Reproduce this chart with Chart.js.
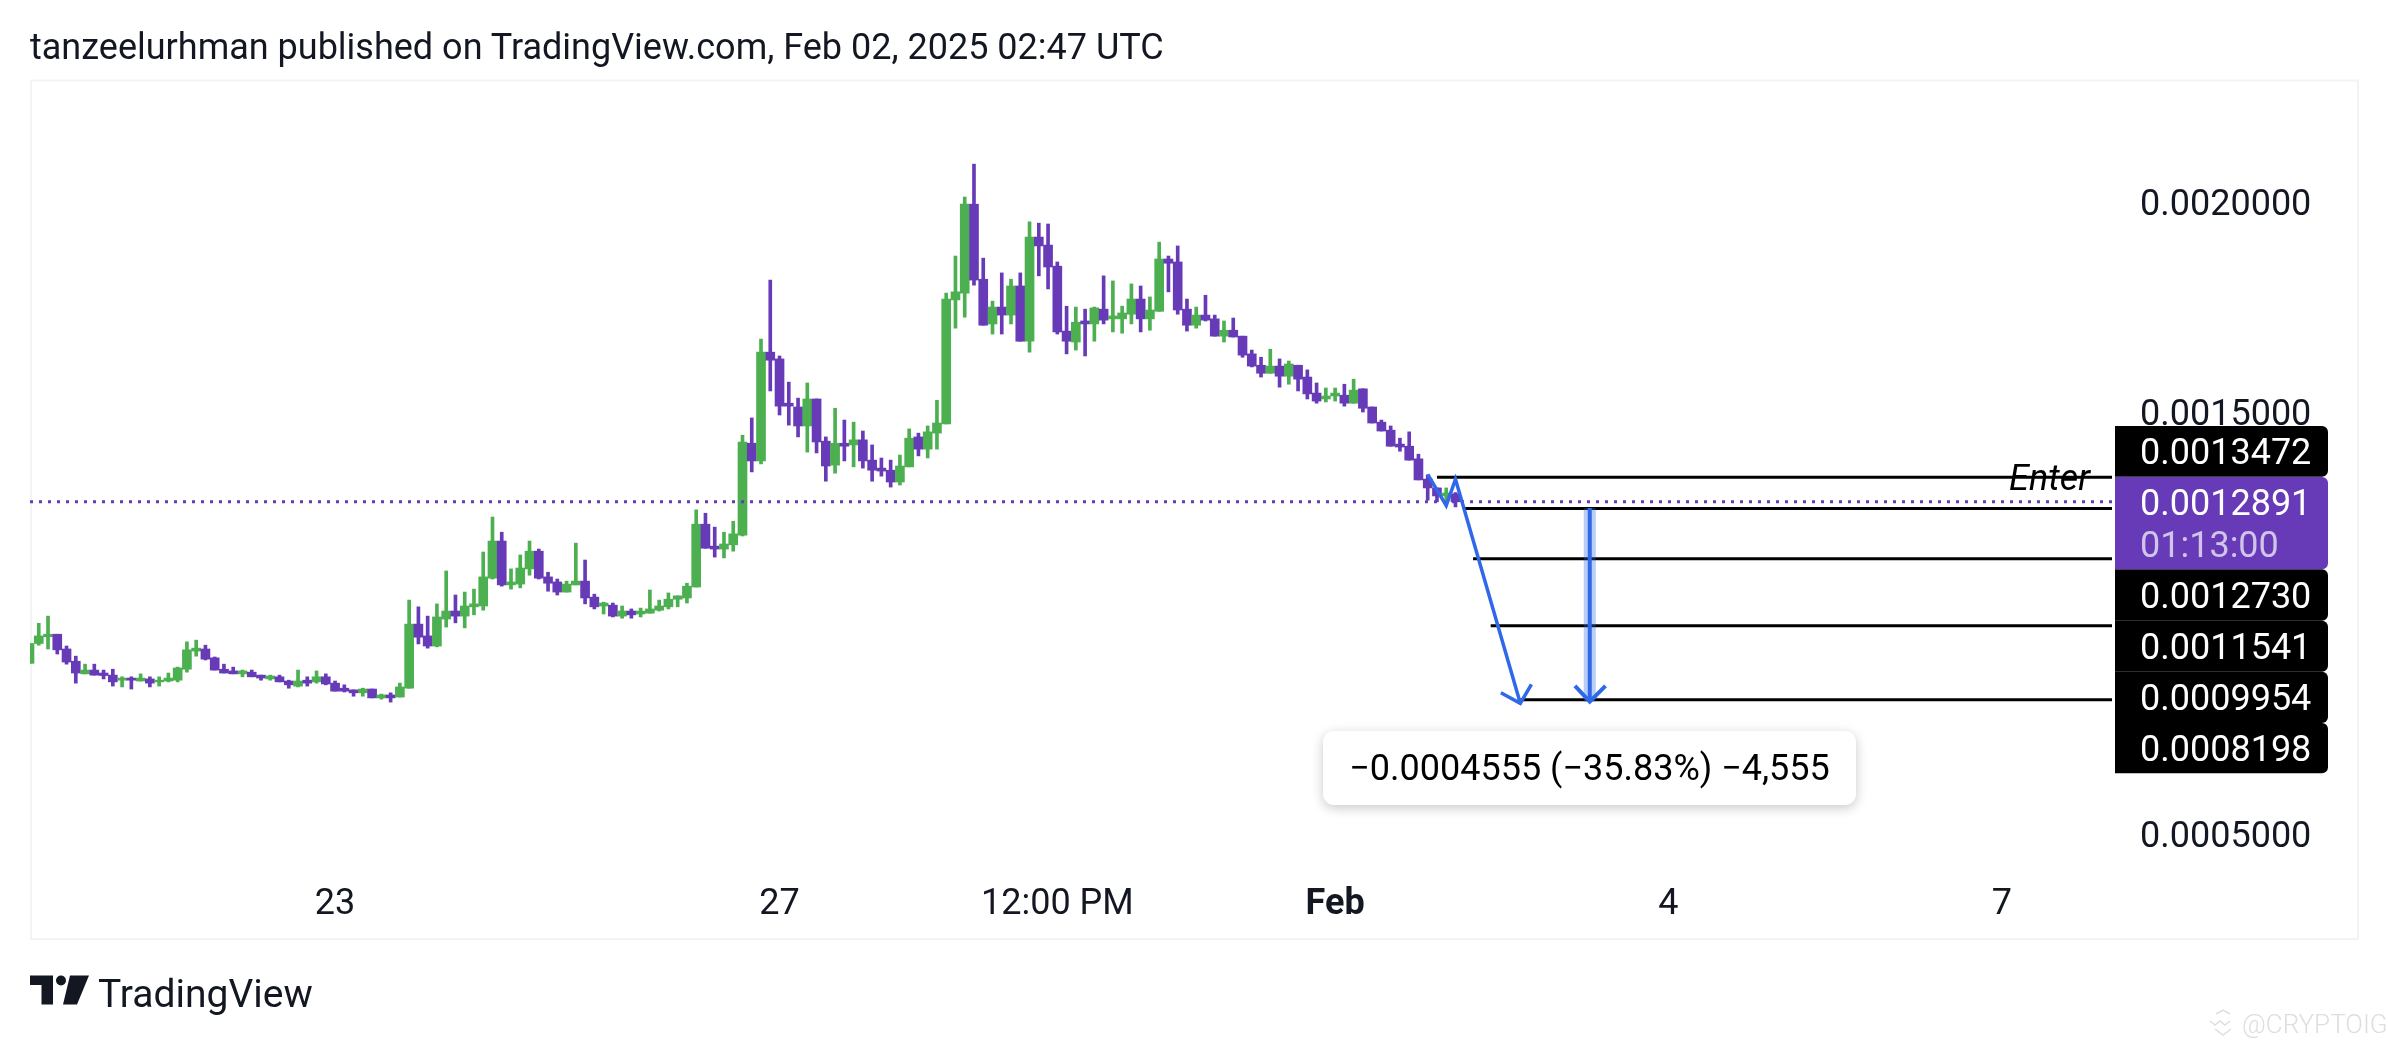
<!DOCTYPE html>
<html>
<head>
<meta charset="utf-8">
<title>TradingView chart</title>
<script src="https://cdn.jsdelivr.net/npm/chart.js@4/dist/chart.umd.min.js"></script>
<style>
  html, body { margin: 0; padding: 0; background: #fff; width: 2388px; height: 1044px; overflow: hidden; }
  canvas { position: absolute; left: 0; top: 0; }
  .txt { position: absolute; font-family: Roboto, sans-serif; color: #131722; white-space: nowrap; line-height: 1; }
  #head { left: 30px; top: 29px; font-size: 36px; }
  #brand { left: 98px; top: 975px; font-size: 39px; }
  #mark { left: 2242px; top: 1011px; font-size: 26px; color: #dedede; font-weight: 300; }
  svg { position: absolute; left: 0; top: 0; }
</style>
</head>
<body>
<canvas id="chart" width="2388" height="1044"></canvas>
<div class="txt" id="head">tanzeelurhman published on TradingView.com, Feb 02, 2025 02:47 UTC</div>
<svg width="2388" height="1044">
  <path d="M30 975.5H53V1004.5H41.5V985H30Z M70 975.5H89L77 1004.5H63Z" fill="#131722"/>
  <circle cx="61" cy="980.5" r="5" fill="#131722"/>
  <path d="M2210 1021l5 4 5-4 5 4 5-4 M2216 1014l7-4 7 4 M2215 1029l8 6 8-6" fill="none" stroke="#dedede" stroke-width="1.5"/>
</svg>
<div class="txt" id="brand">TradingView</div>
<div class="txt" id="mark">@CRYPTOIG</div>
<script>
// 2h candles, index 0 = first bar on the left edge
const opens = [0.000906,0.000953,0.000969,0.000975,0.000940,0.000911,0.000881,0.000890,0.000883,0.000878,
  0.000866,0.000871,0.000864,0.000869,0.000862,0.000864,0.000866,0.000892,0.000935,0.000940,
  0.000919,0.000892,0.000888,0.000881,0.000885,0.000878,0.000869,0.000874,0.000864,0.000852,
  0.000866,0.000862,0.000874,0.000859,0.000847,0.000843,0.000836,0.000845,0.000824,0.000831,
  0.000826,0.000847,0.000999,0.000971,0.000947,0.001011,0.001030,0.001018,0.001040,0.001042,
  0.001108,0.001196,0.001092,0.001094,0.001130,0.001172,0.001111,0.001099,0.001075,0.001092,
  0.001101,0.001063,0.001042,0.001044,0.001018,0.001030,0.001023,0.001025,0.001032,0.001040,
  0.001058,0.001061,0.001087,0.001236,0.001184,0.001177,0.001187,0.001210,0.001428,0.001386,
  0.001644,0.001628,0.001523,0.001514,0.001469,0.001533,0.001433,0.001376,0.001428,0.001424,
  0.001436,0.001388,0.001369,0.001364,0.001336,0.001372,0.001443,0.001414,0.001452,0.001474,
  0.001768,0.001784,0.001995,0.001817,0.001711,0.001751,0.001732,0.001801,0.001670,0.001917,
  0.001898,0.001848,0.001694,0.001668,0.001718,0.001711,0.001746,0.001723,0.001723,0.001734,
  0.001770,0.001723,0.001741,0.001865,0.001858,0.001746,0.001708,0.001732,0.001723,0.001682,
  0.001696,0.001682,0.001640,0.001613,0.001594,0.001611,0.001587,0.001613,0.001585,0.001547,
  0.001533,0.001540,0.001542,0.001523,0.001557,0.001514,0.001478,0.001459,0.001426,0.001421,
  0.001391,0.001343,0.001322,0.001303,0.001308];
const highs = [0.000953,0.001001,0.001018,0.000975,0.000947,0.000923,0.000904,0.000904,0.000890,0.000892,
  0.000874,0.000874,0.000881,0.000874,0.000874,0.000883,0.000897,0.000957,0.000961,0.000949,
  0.000921,0.000904,0.000897,0.000890,0.000890,0.000878,0.000878,0.000878,0.000866,0.000890,
  0.000874,0.000888,0.000881,0.000864,0.000855,0.000843,0.000847,0.000845,0.000833,0.000836,
  0.000859,0.001056,0.001040,0.001018,0.001047,0.001125,0.001068,0.001075,0.001082,0.001170,
  0.001253,0.001217,0.001130,0.001163,0.001196,0.001177,0.001122,0.001106,0.001101,0.001191,
  0.001151,0.001070,0.001051,0.001049,0.001042,0.001035,0.001037,0.001080,0.001056,0.001073,
  0.001066,0.001096,0.001270,0.001262,0.001229,0.001217,0.001243,0.001447,0.001488,0.001675,
  0.001815,0.001635,0.001573,0.001535,0.001571,0.001533,0.001443,0.001511,0.001483,0.001478,
  0.001457,0.001424,0.001393,0.001388,0.001400,0.001462,0.001452,0.001469,0.001530,0.001784,
  0.001872,0.002012,0.002090,0.001867,0.001765,0.001832,0.001817,0.001832,0.001953,0.001950,
  0.001948,0.001858,0.001753,0.001751,0.001746,0.001751,0.001825,0.001813,0.001753,0.001806,
  0.001801,0.001775,0.001905,0.001872,0.001896,0.001770,0.001751,0.001779,0.001732,0.001718,
  0.001725,0.001682,0.001649,0.001632,0.001651,0.001628,0.001623,0.001613,0.001602,0.001571,
  0.001559,0.001559,0.001568,0.001580,0.001557,0.001514,0.001483,0.001469,0.001440,0.001455,
  0.001402,0.001353,0.001322,0.001322,0.001311];
const lows = [0.000906,0.000949,0.000940,0.000928,0.000904,0.000859,0.000881,0.000878,0.000869,0.000852,
  0.000850,0.000845,0.000864,0.000850,0.000852,0.000862,0.000862,0.000885,0.000923,0.000914,
  0.000890,0.000883,0.000881,0.000874,0.000874,0.000866,0.000866,0.000862,0.000847,0.000850,
  0.000852,0.000859,0.000855,0.000840,0.000838,0.000828,0.000828,0.000824,0.000821,0.000814,
  0.000826,0.000847,0.000952,0.000942,0.000945,0.000992,0.001002,0.000990,0.001021,0.001032,
  0.001106,0.001089,0.001082,0.001085,0.001115,0.001106,0.001077,0.001068,0.001075,0.001092,
  0.001047,0.001035,0.001023,0.001016,0.001013,0.001013,0.001016,0.001025,0.001030,0.001035,
  0.001040,0.001049,0.001087,0.001179,0.001158,0.001156,0.001172,0.001208,0.001360,0.001379,
  0.001552,0.001495,0.001471,0.001443,0.001407,0.001405,0.001338,0.001357,0.001386,0.001372,
  0.001369,0.001338,0.001350,0.001324,0.001329,0.001372,0.001398,0.001393,0.001414,0.001474,
  0.001701,0.001727,0.001803,0.001708,0.001687,0.001687,0.001711,0.001670,0.001644,0.001825,
  0.001794,0.001687,0.001640,0.001649,0.001635,0.001670,0.001711,0.001692,0.001689,0.001711,
  0.001692,0.001696,0.001741,0.001787,0.001734,0.001694,0.001701,0.001718,0.001682,0.001668,
  0.001680,0.001632,0.001609,0.001585,0.001594,0.001561,0.001568,0.001552,0.001533,0.001523,
  0.001526,0.001528,0.001516,0.001523,0.001502,0.001476,0.001457,0.001421,0.001409,0.001388,
  0.001341,0.001293,0.001289,0.001293,0.001277];
const closes = [0.000953,0.000971,0.000975,0.000938,0.000909,0.000883,0.000890,0.000878,0.000877,0.000862,
  0.000871,0.000866,0.000871,0.000859,0.000866,0.000871,0.000895,0.000938,0.000942,0.000916,
  0.000890,0.000883,0.000881,0.000888,0.000874,0.000871,0.000876,0.000862,0.000855,0.000864,
  0.000859,0.000874,0.000857,0.000840,0.000840,0.000836,0.000845,0.000824,0.000831,0.000824,
  0.000850,0.000999,0.000968,0.000947,0.001016,0.001030,0.001018,0.001042,0.001047,0.001111,
  0.001196,0.001092,0.001099,0.001132,0.001172,0.001108,0.001096,0.001075,0.001094,0.001101,
  0.001061,0.001040,0.001049,0.001018,0.001030,0.001021,0.001030,0.001035,0.001042,0.001058,
  0.001066,0.001089,0.001236,0.001179,0.001177,0.001189,0.001213,0.001431,0.001386,0.001644,
  0.001625,0.001516,0.001516,0.001469,0.001533,0.001431,0.001374,0.001428,0.001421,0.001436,
  0.001386,0.001364,0.001362,0.001336,0.001374,0.001440,0.001414,0.001455,0.001476,0.001770,
  0.001787,0.001995,0.001815,0.001708,0.001751,0.001732,0.001801,0.001670,0.001917,0.001896,
  0.001846,0.001692,0.001670,0.001715,0.001711,0.001749,0.001720,0.001730,0.001737,0.001770,
  0.001723,0.001744,0.001865,0.001855,0.001744,0.001708,0.001732,0.001720,0.001682,0.001696,
  0.001680,0.001637,0.001611,0.001594,0.001611,0.001587,0.001616,0.001580,0.001545,0.001528,
  0.001540,0.001547,0.001523,0.001554,0.001511,0.001476,0.001457,0.001421,0.001419,0.001388,
  0.001341,0.001322,0.001303,0.001310,0.0012891];

const timeTicks = [33, 81, 111, 141, 177, 213];
const timeLabels = ['23', '27', '12:00 PM', 'Feb', '4', '7'];
const priceTicks = [0.0005, 0.0015, 0.002];

const lastPrice = 0.0012891;
const levelPrices = [0.0013472, 0.0012730, 0.0011541, 0.0009954, 0.0008198];
const levelStarts = [152, 154.8, 155.9, 157.8, 161];

const zigzagX = [151, 153, 154, 161];
const zigzagY = [0.0013544, 0.0012799, 0.0013425, 0.0008112];
const headLeftX = [158.9, 161, 162.2];
const headLeftY = [0.0008363, 0.0008112, 0.0008563];

const measureX = [168.5, 168.5];
const measureY = [0.0012744, 0.000815];
const measureHeadX = [166.9, 168.5, 170.2];
const measureHeadY = [0.0008524, 0.000815, 0.0008524];
const measureText = '\u22120.0004555 (\u221235.83%) \u22124,555';

const X_MIN = 0.054, X_MAX = 224.9;
const Y_MIN = 0.0004395, Y_MAX = 0.0022872;

const GREEN = '#4CAF50', PURPLE = '#673AB7', BLUE = '#2F68E8';
const FONT = '36px Roboto';

const candleColors = closes.map((c, i) => c >= opens[i] ? GREEN : PURPLE);
const toPoints = (xs, ys) => xs.map((x, i) => ({x: x, y: ys[i]}));
const lineSet = (points, color, width, order, extra) => Object.assign({
  type: 'line', data: points, borderColor: color, borderWidth: width, order: order,
  pointRadius: 0, fill: false, tension: 0, borderCapStyle: 'butt'
}, extra || {});

// axis side labels, boxes and the frame: no scale calls needed except for Enter
const overlay = {
  id: 'overlay',
  beforeDraw(chart) {
    const c = chart.ctx;
    c.save();
    c.strokeStyle = '#F2F3F5';
    c.lineWidth = 2;
    c.strokeRect(31, 80.5, 2327, 858.5);
    c.restore();
  },
  afterDraw(chart) {
    const c = chart.ctx;
    const pill = (top, bottom, color) => {
      c.fillStyle = color;
      c.beginPath();
      c.roundRect(2115, top, 213, bottom - top, [0, 6, 6, 0]);
      c.fill();
    };
    const tags = [
      [426, 476.7, levelPrices[0], 464.3],
      [569.3, 620.7, levelPrices[1], 607.7],
      [620.7, 671.7, levelPrices[2], 659],
      [671.7, 723, levelPrices[3], 710],
      [723, 773.3, levelPrices[4], 760.7]
    ];
    c.save();
    c.font = FONT;
    c.textBaseline = 'alphabetic';
    c.textAlign = 'left';
    tags.forEach(t => {
      pill(t[0], t[1], '#000');
      c.fillStyle = '#fff';
      c.fillText(t[2].toFixed(7), 2140, t[3]);
    });
    pill(477, 569.3, PURPLE);
    c.fillStyle = '#fff';
    c.fillText(lastPrice.toFixed(7), 2140, 515);
    c.fillStyle = '#D1C4E9';
    c.fillText('01:13:00', 2140, 556.7);

    // Enter label sits on the first level
    c.fillStyle = '#000';
    c.font = 'italic 36px Roboto';
    c.textAlign = 'right';
    c.fillText('Enter', chart.scales.x.right - 22, chart.scales.y.getPixelForValue(levelPrices[0]) + 13);

    // measure box
    c.shadowColor = 'rgba(0,0,0,0.22)';
    c.shadowBlur = 12;
    c.shadowOffsetY = 3;
    c.fillStyle = '#fff';
    c.beginPath();
    c.roundRect(1323, 731, 533, 74, 11);
    c.fill();
    c.shadowColor = 'transparent';
    c.fillStyle = '#000';
    c.font = FONT;
    c.textAlign = 'center';
    c.textBaseline = 'middle';
    c.fillText(measureText, 1589.5, 771);
    c.restore();
  }
};

new Chart(document.getElementById('chart'), {
  type: 'bar',
  data: {
    datasets: [
      // last price
      lineSet(toPoints([X_MIN, X_MAX], [lastPrice, lastPrice]), PURPLE, 3, 3, {borderDash: [3, 6]}),
      // levels
      ...levelPrices.map((p, i) => lineSet(toPoints([levelStarts[i], X_MAX], [p, p]), '#000', 3, 4)),
      // measure arrow
      lineSet(toPoints(measureX, measureY), 'rgba(47,104,232,0.33)', 12, 2),
      lineSet(toPoints(measureX, measureY), BLUE, 4, 1),
      lineSet(toPoints(measureHeadX, measureHeadY), BLUE, 4, 1),
      // drawn path
      lineSet(toPoints(zigzagX, zigzagY), BLUE, 3.5, 1),
      lineSet(toPoints(headLeftX, headLeftY), BLUE, 3.5, 1),
      // candles
      {
        data: opens.map((o, i) => ({x: i, y: [Math.min(o, closes[i]), Math.max(o, closes[i])]})),
        backgroundColor: candleColors, barThickness: 9, grouped: false, order: 5, borderWidth: 0
      },
      {
        data: highs.map((h, i) => ({x: i, y: [lows[i], h]})),
        backgroundColor: candleColors, barThickness: 3, grouped: false, order: 6, borderWidth: 0
      }
    ]
  },
  options: {
    responsive: false,
    animation: false,
    events: [],
    layout: { padding: { left: 30, top: 81, right: 30, bottom: 106 } },
    plugins: { legend: { display: false }, tooltip: { enabled: false } },
    scales: {
      x: {
        type: 'linear',
        min: X_MIN,
        max: X_MAX,
        offset: false,
        grid: { display: false },
        border: { display: false },
        afterBuildTicks: scale => { scale.ticks = timeTicks.map(v => ({value: v})); },
        afterFit: scale => { scale.height = 78; },
        ticks: {
          autoSkip: false,
          maxRotation: 0,
          padding: 15,
          color: '#131722',
          font: ctx => ({ family: 'Roboto', size: 36, weight: ctx.tick && ctx.tick.value === 141 ? 'bold' : 'normal' }),
          callback: value => timeLabels[timeTicks.indexOf(value)]
        }
      },
      y: {
        position: 'right',
        min: Y_MIN,
        max: Y_MAX,
        grid: { display: false, drawTicks: false },
        border: { display: false },
        afterBuildTicks: scale => { scale.ticks = priceTicks.map(v => ({value: v})); },
        afterFit: scale => { scale.width = 246; },
        ticks: {
          padding: 28,
          labelOffset: 3.5,
          color: '#131722',
          font: { family: 'Roboto', size: 36 },
          callback: value => value.toFixed(7)
        }
      }
    }
  },
  plugins: [overlay]
});
</script>
</body>
</html>
